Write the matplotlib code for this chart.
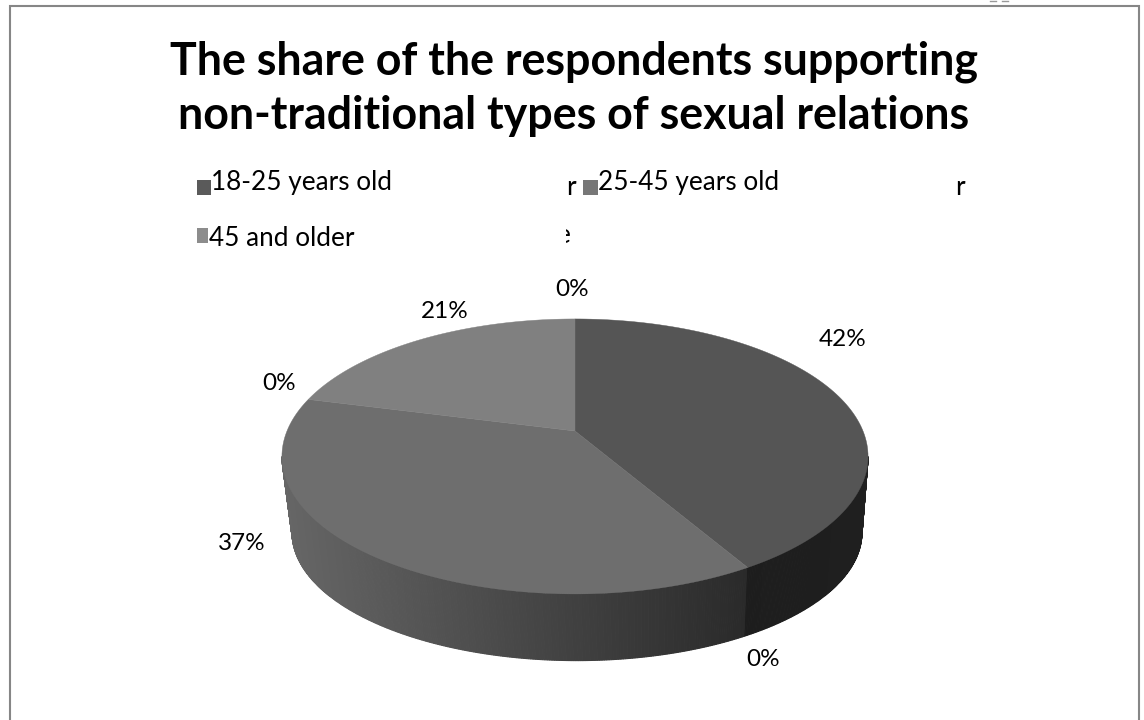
import numpy as np
import matplotlib
matplotlib.use("Agg")
import matplotlib.pyplot as plt
from matplotlib.patches import Rectangle

title = "The share of the respondents supporting\nnon-traditional types of sexual relations"
# shares going clockwise from 12 o'clock, the zero ones have no legend text left
shares = [41.6, 0, 37.4, 0, 21.0, 0]
face_colors = ["#555555", "#555555", "#6e6e6e", "#6e6e6e", "#808080", "#808080"]
legend_labels = ["18-25 years old", "25-45 years old", "45 and older"]
legend_colors = ["#5a5a5a", "#777777", "#8c8c8c"]
label_pos = [(843, 340), (763, 660), (242, 544), (279, 384), (445, 312), (572, 290)]

plt.rcParams['font.family'] = ['Lato', 'DejaVu Sans']

fig = plt.figure(figsize=(11.44, 7.2), dpi=100)
ax = fig.add_axes([0, 0, 1, 1])
ax.set_xlim(0, 1144)
ax.set_ylim(720, 0)
ax.axis("off")

# chart frame, the bottom side is cut off in the scan
ax.plot([9.5, 9.5, 1139, 1139], [721, 6, 6, 721], color="#868686", lw=1.5, solid_joinstyle="miter")

# specks left of the page number above the frame
ax.plot([990, 996], [0.5, 0.5], color="#999999", lw=1)
ax.plot([1002, 1008], [0.5, 0.5], color="#999999", lw=1)

ax.text(574, 129, title, ha="center", va="baseline", fontsize=32.2, fontweight="bold",
        color="black", linespacing=1.357)


def project(t, cx, cy, a, b, c, k):
    # t is the angle clockwise from the top, circle goes through a perspective map
    X = np.sin(t)
    Y = np.cos(t)
    w = 1 + k * Y
    return cx + a * X / w, cy - (b * Y + c) / w


top = dict(cx=575, cy=456, a=288, b=137.4, c=25, k=0.185)
bot = dict(cx=577, cy=533, a=280, b=128, c=24, k=0.185)

frac = np.array(shares) / sum(shares) * 2 * np.pi
edges = np.concatenate([[0], np.cumsum(frac)])
split1 = edges[1]

# side wall, strips so the shading runs from dark at right to lighter at left
t_ext = np.arccos(-top["k"])
angles = np.linspace(t_ext, 2 * np.pi - t_ext, 400)
for t0, t1 in zip(angles[:-1], angles[1:]):
    x0, y0 = project(t0, **top)
    x1, y1 = project(t1, **top)
    x2, y2 = project(t1, **bot)
    x3, y3 = project(t0, **bot)
    if t0 < split1:
        shade = 0.115 + 0.012 * (split1 - t0)
    else:
        shade = 0.40 - (x3 - 292) / 453 * 0.235
    ax.fill([x0, x1, x2, x3], [y0, y1, y2, y3], color=str(shade), lw=0.8)

# top face
for i in range(len(shares)):
    if shares[i] == 0:
        continue
    ts = np.linspace(edges[i], edges[i + 1], 120)
    xs, ys = project(ts, **top)
    ax.fill(np.r_[top["cx"], xs], np.r_[top["cy"] - top["c"], ys], color=face_colors[i], lw=0.3)

for s, (lx, ly) in zip(shares, label_pos):
    ax.text(lx, ly, "%d%%" % round(s), ha="center", va="center", fontsize=17.5, color="black")

# legend
ax.add_patch(Rectangle((197, 180), 14, 15, color=legend_colors[0], lw=0))
ax.add_patch(Rectangle((583, 180), 15, 15, color=legend_colors[1], lw=0))
ax.add_patch(Rectangle((197, 228), 11, 15, color=legend_colors[2], lw=0))
ax.text(211, 190, legend_labels[0], va="baseline", fontsize=18.8)
ax.text(598, 190, legend_labels[1], va="baseline", fontsize=18.8)
ax.text(209, 246, legend_labels[2], va="baseline", fontsize=18.8)

# bits of covered legend text that are still visible
ax.text(566, 195, "r", va="baseline", ha="left", fontsize=18.8)
ax.text(955, 195, "r", va="baseline", ha="left", fontsize=18.8)
ax.text(571, 243, "e", va="baseline", ha="right", fontsize=18.8)
ax.add_patch(Rectangle((550, 224), 16, 24, color="white", lw=0, zorder=3))

fig.savefig("out.png", dpi=100)
